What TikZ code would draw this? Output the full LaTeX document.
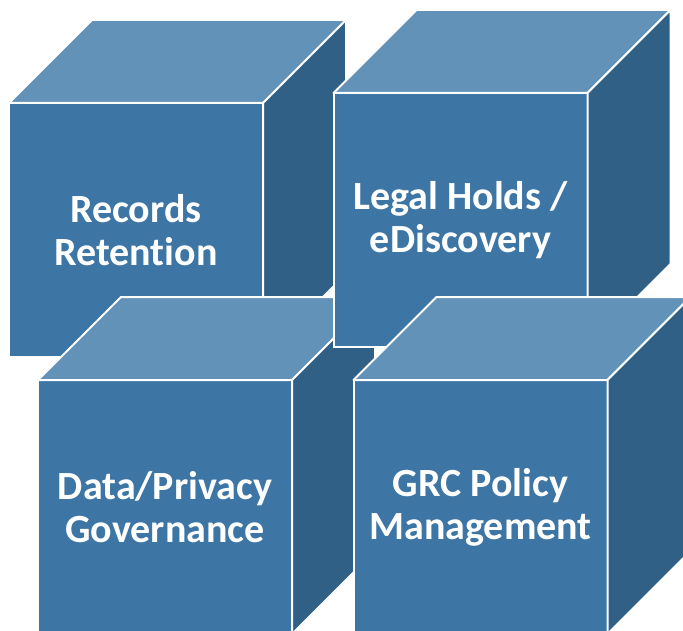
\documentclass[tikz,border=0pt]{standalone}
\usepackage{fontspec}
\setmainfont[Ligatures=NoCommon]{Carlito}
\definecolor{frontblue}{HTML}{3D75A5}
\definecolor{topblue}{HTML}{6292B8}
\definecolor{sideblue}{HTML}{316087}

\begin{document}
\begin{tikzpicture}[x=1pt,y=-1pt,
    front/.style={rectangle,fill=frontblue,draw=white,line width=2pt,
      minimum width=254pt,minimum height=254pt,inner sep=0pt,outer sep=0pt,
      align=center,text=white,font=\fontsize{40}{43}\selectfont\bfseries},
    topface/.style={fill=topblue,draw=white,line width=2pt,line join=round},
    sideface/.style={fill=sideblue,draw=white,line width=2pt,line join=round}]
  \useasboundingbox (0,0) rectangle (683,631);
  \clip (0,0) rectangle (683,631);
  % back row left
  \node[front] (RR) at (136,230) {Records\\Retention};
  \path[topface] (RR.north west) -- ++(83,-83) -- ++(254,0) -- (RR.north east) -- cycle;
  \path[sideface] (RR.north east) -- ++(83,-83) -- ++(0,254) -- (RR.south east) -- cycle;
  % front row left
  \node[front] (DP) at (165,507) {Data/Privacy\\Governance};
  \path[topface] (DP.north west) -- ++(83,-83) -- ++(254,0) -- (DP.north east) -- cycle;
  \path[sideface] (DP.north east) -- ++(83,-83) -- ++(0,254) -- (DP.south east) -- cycle;
  % back row right
  \node[front] (LH) at (460.5,220) {Legal Holds /\\eDiscovery};
  \path[topface] (LH.north west) -- ++(83,-83) -- ++(254,0) -- (LH.north east) -- cycle;
  \path[sideface] (LH.north east) -- ++(83,-83) -- ++(0,254) -- (LH.south east) -- cycle;
  % front row right
  \node[front] (GRC) at (480.5,507) {GRC Policy\\Management};
  \path[topface] (GRC.north west) -- ++(83,-83) -- ++(254,0) -- (GRC.north east) -- cycle;
  \path[sideface] (GRC.north east) -- ++(83,-83) -- ++(0,254) -- (GRC.south east) -- cycle;
\end{tikzpicture}
\end{document}
